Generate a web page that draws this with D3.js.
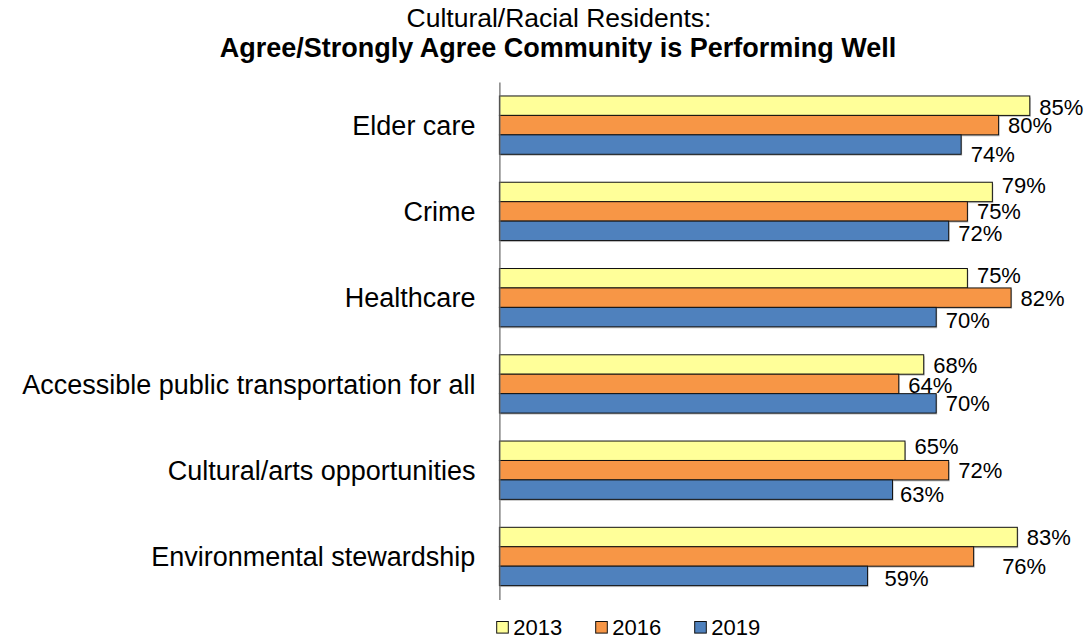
<!DOCTYPE html>
<html>
<head>
<meta charset="utf-8">
<script src="https://cdn.jsdelivr.net/npm/d3@7"></script>
<style>
  html, body { margin: 0; padding: 0; background: #fff; }
  svg { display: block; font-family: "Liberation Sans", Arial, sans-serif; }
</style>
</head>
<body>
<svg id="chart" width="1089" height="640"></svg>
<script>
// Survey items, top to bottom
const categories = [
  "Elder care",
  "Crime",
  "Healthcare",
  "Accessible public transportation for all",
  "Cultural/arts opportunities",
  "Environmental stewardship"
];
const years = ["2013", "2016", "2019"];

// Share agreeing / strongly agreeing, per year (in category order)
const values2013 = [0.85, 0.79, 0.75, 0.68, 0.65, 0.83];
const values2016 = [0.80, 0.75, 0.82, 0.64, 0.72, 0.76];
const values2019 = [0.74, 0.72, 0.70, 0.70, 0.63, 0.59];

const seriesValues = { "2013": values2013, "2016": values2016, "2019": values2019 };
const colors = { "2013": "#FFFF99", "2016": "#F79646", "2019": "#4F81BD" };

// Small nudges so crowded value labels don't collide
const labelNudge = {
  "Elder care|2013": [0, 1.5],
  "Elder care|2019": [0, 10],
  "Crime|2013": [0, -7],
  "Crime|2019": [0, 2],
  "Healthcare|2013": [0, -3],
  "Healthcare|2019": [0, 3],
  "Accessible public transportation for all|2013": [0, 1],
  "Accessible public transportation for all|2016": [0, 1],
  "Cultural/arts opportunities|2013": [0, -5],
  "Cultural/arts opportunities|2019": [-2, 4.5],
  "Environmental stewardship|2016": [19, 10],
  "Environmental stewardship|2019": [7.5, 2.5]
};

const svg = d3.select("#chart");

const x = d3.scaleLinear().domain([0, 0.9]).range([499.4, 499.4 + 0.9 * 624]);
const y0 = d3.scaleBand().domain(categories).range([82, 599.6])
  .paddingInner(0.324).paddingOuter(0.162);
const y1 = d3.scaleBand().domain(years).range([0, y0.bandwidth()]);
const pct = d3.format(".0%");

// Title
const title = svg.append("text")
  .attr("x", 558).attr("text-anchor", "middle").attr("fill", "#000");
title.append("tspan").attr("x", 559).attr("y", 27)
  .attr("font-size", 26.5).text("Cultural/Racial Residents:");
title.append("tspan").attr("x", 558).attr("y", 57)
  .attr("font-size", 27).attr("font-weight", "bold")
  .text("Agree/Strongly Agree Community is Performing Well");

// Bars
const rows = categories.flatMap((c, i) => years.map(yr => ({ cat: c, year: yr, v: seriesValues[yr][i] })));

const g = svg.append("g");
g.selectAll("rect.shadow").data(rows).join("rect")
  .attr("class", "shadow")
  .attr("x", x(0) + 1)
  .attr("y", d => y0(d.cat) + y1(d.year) + 1.5)
  .attr("width", d => x(d.v) - x(0))
  .attr("height", y1.bandwidth())
  .attr("fill", "#c4c4c4");

g.selectAll("rect.bar").data(rows).join("rect")
  .attr("class", "bar")
  .attr("x", x(0))
  .attr("y", d => y0(d.cat) + y1(d.year))
  .attr("width", d => x(d.v) - x(0))
  .attr("height", y1.bandwidth())
  .attr("fill", d => colors[d.year])
  .attr("stroke", "#111")
  .attr("stroke-width", 1);

// Value labels
g.selectAll("text.val").data(rows).join("text")
  .attr("class", "val")
  .attr("x", d => x(d.v) + 9.5 + (labelNudge[d.cat + "|" + d.year] || [0, 0])[0])
  .attr("y", d => y0(d.cat) + y1(d.year) + y1.bandwidth() / 2 + 7.9 + (labelNudge[d.cat + "|" + d.year] || [0, 0])[1])
  .attr("font-size", 22)
  .attr("fill", "#000")
  .text(d => pct(d.v));

// Category axis
const yAxis = d3.axisLeft(y0).tickSize(0).tickPadding(24);
const ax = svg.append("g").attr("transform", `translate(${x(0)},0)`).call(yAxis);
ax.select(".domain").attr("stroke", "#666").attr("stroke-width", 1.2);
ax.selectAll(".tick text")
  .attr("font-size", 27)
  .attr("font-family", "Liberation Sans, Arial, sans-serif")
  .attr("fill", "#000")
  .attr("dy", "0.36em");

// Legend
const legend = svg.append("g").attr("transform", "translate(496.7,621.5)");
const item = legend.selectAll("g").data(years).join("g")
  .attr("transform", (d, i) => `translate(${i * 99},0)`);
item.append("rect")
  .attr("width", 11.6).attr("height", 11.6)
  .attr("fill", d => colors[d]).attr("stroke", "#111").attr("stroke-width", 1);
item.append("text")
  .attr("x", 16.6).attr("y", 13.8)
  .attr("font-size", 22).attr("fill", "#000")
  .text(d => d);
</script>
</body>
</html>
